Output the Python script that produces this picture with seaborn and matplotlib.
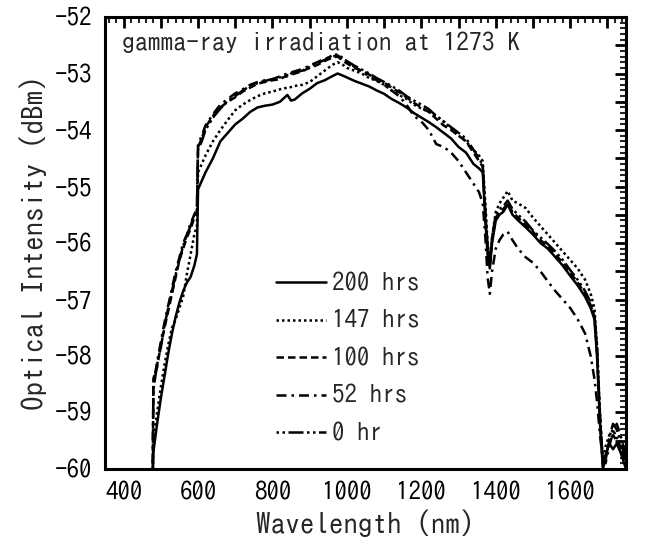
import matplotlib
matplotlib.use("Agg")
import matplotlib.pyplot as plt
from matplotlib.ticker import MultipleLocator, FuncFormatter
import seaborn as sns
import pandas as pd

wavelength = [478, 480, 490, 500, 510, 520, 530, 540, 550, 560, 570, 580, 590, 597, 600, 610, 620, 640, 660, 680,
              700, 720, 740, 760, 780, 800, 820, 840, 850, 860, 880, 900, 920, 940, 960, 975, 990, 1000, 1020, 1040,
              1060, 1080, 1100, 1120, 1140, 1160, 1180, 1200, 1220, 1240, 1260, 1280, 1300, 1320, 1340, 1355, 1365,
              1372, 1378, 1384, 1390, 1400, 1410, 1420, 1432, 1445, 1460, 1480, 1500, 1520, 1540, 1560, 1580, 1600,
              1620, 1640, 1655, 1665, 1672, 1680, 1688, 1695, 1705, 1715, 1725, 1735, 1745, 1750]

hrs200 = [-60.3, -59.7, -59.2, -58.75, -58.35, -57.95, -57.6, -57.3, -57.05, -56.85, -56.7, -56.6, -56.4, -56.2,
          -55.05, -54.9, -54.75, -54.5, -54.2, -54.05, -53.9, -53.8, -53.68, -53.6, -53.57, -53.55, -53.5, -53.38,
          -53.48, -53.46, -53.35, -53.27, -53.17, -53.12, -53.05, -53.0, -53.04, -53.07, -53.13, -53.18, -53.23,
          -53.3, -53.36, -53.45, -53.52, -53.6, -53.7, -53.78, -53.86, -53.95, -54.05, -54.15, -54.3, -54.4, -54.6,
          -54.68, -54.75, -55.6, -56.2, -56.45, -56.0, -55.6, -55.5, -55.45, -55.32, -55.5, -55.6, -55.72, -55.85,
          -56.0, -56.1, -56.25, -56.4, -56.58, -56.75, -56.95, -57.15, -57.35, -58.0, -59.2, -60.0, -59.75, -59.55,
          -59.65, -59.55, -59.7, -59.9, -60.0]

hrs147 = [-60.3, -59.5, -59.0, -58.55, -58.15, -57.8, -57.5, -57.35, -57.15, -56.95, -56.55, -56.2, -55.85, -55.7,
          -54.75, -54.6, -54.45, -54.2, -54.0, -53.82, -53.65, -53.55, -53.47, -53.4, -53.35, -53.32, -53.28, -53.25,
          -53.24, -53.22, -53.2, -53.15, -53.05, -52.95, -52.85, -52.8, -52.85, -52.9, -52.95, -53.0, -53.08, -53.13,
          -53.2, -53.3, -53.38, -53.45, -53.55, -53.62, -53.68, -53.75, -53.85, -53.97, -54.1, -54.2, -54.35, -54.45,
          -54.55, -55.3, -56.0, -56.35, -55.9, -55.45, -55.3, -55.2, -55.08, -55.25, -55.3, -55.38, -55.55, -55.7,
          -55.85, -56.0, -56.15, -56.3, -56.45, -56.65, -56.9, -57.15, -57.8, -59.0, -59.9, -59.6, -59.4, -59.3,
          -59.45, -59.5, -59.7, -59.8]

hrs100 = [-60.3, -58.4, -58.2, -57.8, -57.5, -57.2, -56.9, -56.6, -56.3, -56.1, -55.9, -55.75, -55.55, -55.45,
          -54.3, -54.15, -53.95, -53.75, -53.6, -53.5, -53.42, -53.32, -53.25, -53.18, -53.15, -53.12, -53.1, -53.03,
          -53.02, -53.0, -52.96, -52.9, -52.85, -52.78, -52.72, -52.7, -52.78, -52.82, -52.9, -52.95, -53.02, -53.1,
          -53.16, -53.25, -53.33, -53.42, -53.52, -53.6, -53.68, -53.8, -53.92, -54.0, -54.1, -54.2, -54.4, -54.55,
          -54.65, -55.5, -56.1, -56.4, -55.95, -55.55, -55.45, -55.4, -55.3, -55.45, -55.55, -55.68, -55.8, -55.95,
          -56.05, -56.2, -56.35, -56.52, -56.7, -56.9, -57.1, -57.3, -57.9, -59.1, -59.95, -59.8, -59.5, -59.4,
          -59.5, -59.6, -59.8, -59.9]

hrs52 = [-60.3, -58.5, -58.1, -57.75, -57.4, -57.1, -56.8, -56.5, -56.25, -56.0, -55.85, -55.65, -55.5, -55.4,
         -54.25, -54.1, -53.92, -53.72, -53.55, -53.45, -53.35, -53.28, -53.2, -53.15, -53.12, -53.1, -53.05, -53.0,
         -52.98, -52.96, -52.92, -52.86, -52.8, -52.74, -52.7, -52.68, -52.75, -52.8, -52.88, -52.97, -53.05, -53.12,
         -53.2, -53.3, -53.4, -53.55, -53.75, -53.85, -54.0, -54.25, -54.3, -54.4, -54.55, -54.75, -54.95, -55.1,
         -55.3, -55.9, -56.6, -56.9, -56.5, -56.1, -55.95, -55.85, -55.8, -55.95, -56.1, -56.25, -56.35, -56.5,
         -56.68, -56.85, -57.0, -57.15, -57.35, -57.6, -58.0, -58.4, -58.8, -59.4, -59.85, -59.9, -59.6, -59.35,
         -59.2, -59.4, -59.65, -59.75]

hrs0 = [-60.3, -58.6, -58.15, -57.85, -57.45, -57.15, -56.85, -56.55, -56.3, -56.05, -55.85, -55.7, -55.5, -55.45,
        -54.35, -54.2, -54.0, -53.78, -53.62, -53.48, -53.4, -53.3, -53.22, -53.17, -53.13, -53.1, -53.07, -53.05,
        -53.0, -52.98, -52.95, -52.88, -52.82, -52.76, -52.68, -52.66, -52.73, -52.78, -52.86, -52.93, -53.0, -53.08,
        -53.15, -53.22, -53.3, -53.4, -53.48, -53.55, -53.63, -53.75, -53.85, -53.95, -54.05, -54.15, -54.35, -54.5,
        -54.62, -55.45, -56.05, -56.35, -55.9, -55.5, -55.4, -55.35, -55.25, -55.4, -55.5, -55.62, -55.78, -55.9,
        -56.02, -56.15, -56.3, -56.48, -56.65, -56.85, -57.05, -57.25, -57.85, -59.05, -59.9, -59.85, -59.45, -59.2,
        -59.3, -59.5, -59.75, -59.85]

series_labels = ["200 hrs", "147 hrs", "100 hrs", "52 hrs", "0 hr"]
series_values = [hrs200, hrs147, hrs100, hrs52, hrs0]
line_styles = ["-", (0, (1, 1.2)), (0, (3, 1.6)), (0, (4, 2, 1, 2)), (0, (1, 1.4, 1, 1.4, 6, 1.4))]

x_tick_labels = [400, 600, 800, 1000, 1200, 1400, 1600]
y_tick_labels = [-60, -59, -58, -57, -56, -55, -54, -53, -52]

sns.set_theme(style="white")
FONT = ["IPAGothic", "DejaVu Sans"]
plt.rcParams["font.family"] = FONT
plt.rcParams["axes.unicode_minus"] = True

fig = plt.figure(figsize=(6.49, 5.47), dpi=100)
ax = fig.add_axes([0.1618, 0.1426, 0.8028, 0.8263])

for lab, vals, ls in zip(series_labels, series_values, line_styles):
    df = pd.DataFrame({"Wavelength": wavelength, "Intensity": vals})
    sns.lineplot(data=df, x="Wavelength", y="Intensity", ax=ax, color="black", lw=1.8,
                 linestyle=ls, label=lab, sort=False, estimator=None)

ax.set_xlim(350, 1750)
ax.set_ylim(-60, -52)

ax.xaxis.set_major_locator(MultipleLocator(100))
ax.xaxis.set_minor_locator(MultipleLocator(20))
ax.yaxis.set_major_locator(MultipleLocator(0.5))
ax.yaxis.set_minor_locator(MultipleLocator(0.1))
ax.xaxis.set_major_formatter(FuncFormatter(lambda v, p: f"{int(round(v))}" if int(round(v)) in x_tick_labels else ""))
ax.yaxis.set_major_formatter(FuncFormatter(lambda v, p: f"\u2212{abs(int(round(v)))}" if abs(v - round(v)) < 1e-6 and int(round(v)) in y_tick_labels else ""))

ax.tick_params(which="major", direction="in", length=8, width=2, top=True, right=True,
               labelsize=18, pad=9, colors="black")
ax.tick_params(which="minor", direction="in", length=4, width=1.5, top=True, right=True)
for t in ax.get_xticklabels() + ax.get_yticklabels():
    t.set_family(FONT)

for sp in ax.spines.values():
    sp.set_linewidth(2.2)
    sp.set_color("black")

ax.set_xlabel("Wavelength (nm)", fontsize=21, family=FONT, labelpad=5)
ax.set_ylabel("Optical Intensity (dBm)", fontsize=21, family=FONT, labelpad=6)

ax.text(0.033, 0.945, "gamma-ray irradiation at 1273 K", transform=ax.transAxes,
        fontsize=18.5, family=FONT, va="center", ha="left")

leg = ax.legend(loc="upper left", bbox_to_anchor=(0.329, 0.436), frameon=False,
                handlelength=2.0, handletextpad=0.22, labelspacing=0.66,
                borderaxespad=0, borderpad=0, prop={"family": FONT, "size": 18})

fig.savefig("out.png", dpi=100)
